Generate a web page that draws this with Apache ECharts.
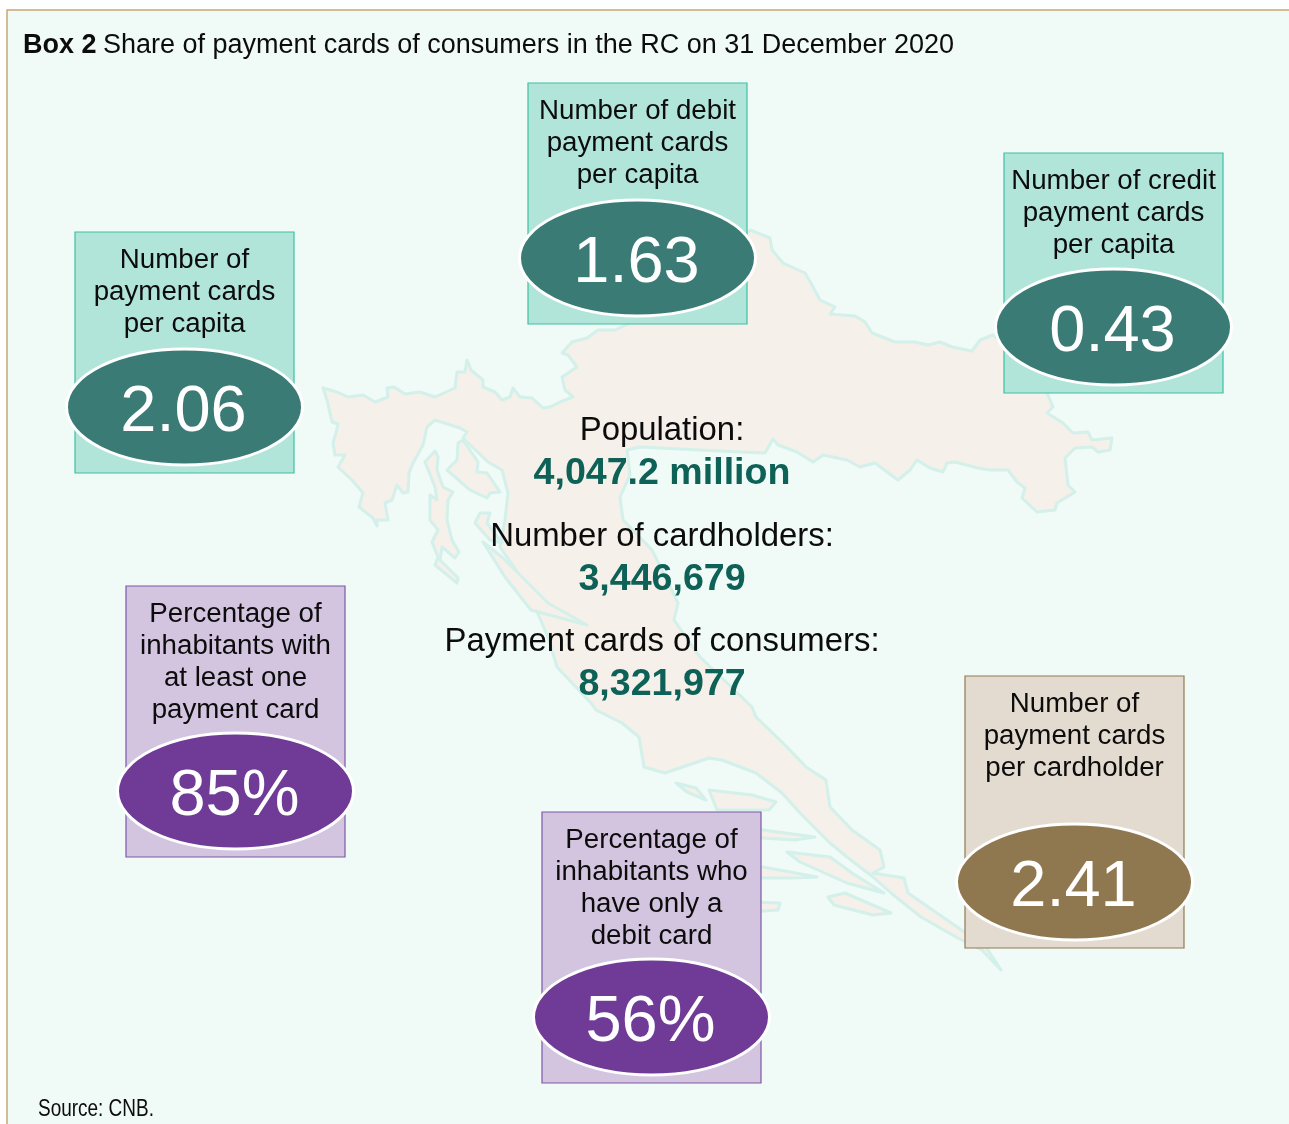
<!DOCTYPE html>
<html>
<head>
<meta charset="utf-8">
<title>Box 2</title>
<script src="https://cdn.jsdelivr.net/npm/echarts@6/dist/echarts.min.js"></script>
<style>
html, body { margin: 0; padding: 0; background: #fff; }
#chart { width: 1289px; height: 1124px; }
</style>
</head>
<body>
<div id="chart"></div>
<script>
var cardLabels = [
	['Number of', 'payment cards', 'per capita'],
	['Number of debit', 'payment cards', 'per capita'],
	['Number of credit', 'payment cards', 'per capita'],
	['Percentage of', 'inhabitants with', 'at least one', 'payment card'],
	['Percentage of', 'inhabitants who', 'have only a', 'debit card'],
	['Number of', 'payment cards', 'per cardholder']
];
var cardValues = [2.06, 1.63, 0.43, 85, 56, 2.41];
var cardUnits = ['', '', '', '%', '%', ''];

var statLabels = ['Population:', 'Number of cardholders:', 'Payment cards of consumers:'];
var statValues = ['4,047.2 million', '3,446,679', '8,321,977'];

var titleBold = 'Box 2';
var titleText = 'Share of payment cards of consumers in the RC on 31 December 2020';
var sourceText = 'Source: CNB.';

// where each card sits: left, top, right, bottom, palette
var cardBoxes = [
	[75, 232, 294, 473, 'teal'],
	[528, 83, 747, 324, 'teal'],
	[1004, 153, 1223, 393, 'teal'],
	[126, 586, 345, 857, 'purple'],
	[542, 812, 761, 1083, 'purple'],
	[965, 676, 1184, 948, 'brown']
];
var palettes = {
	teal: { fill: '#b2e5da', line: '#3cc0a2', oval: '#3b7b76' },
	purple: { fill: '#d3c4df', line: '#7f57a8', oval: '#6f3b96' },
	brown: { fill: '#e3dbd0', line: '#8f7a50', oval: '#8f784f' }
};

// backdrop outline of the country, not data
var mainland = [[323,388],[337,392],[348,397],[363,395],[375,402],[388,397],[387,388],[394,387],[405,394],[420,392],[435,397],[455,388],[457,372],[465,372],[467,360],[471,370],[483,380],[483,387],[495,392],[502,400],[510,397],[513,388],[520,397],[532,398],[543,408],[550,407],[560,402],[573,397],[565,390],[562,377],[577,367],[568,355],[562,353],[572,342],[587,338],[598,330],[615,330],[680,300],[750,230],[770,238],[772,250],[783,263],[805,273],[812,285],[820,300],[835,307],[830,314],[855,316],[865,322],[872,333],[895,342],[915,342],[928,345],[940,342],[952,347],[972,351],[980,340],[993,335],[1030,370],[1048,395],[1053,407],[1047,413],[1063,423],[1073,433],[1088,432],[1092,440],[1112,438],[1110,450],[1098,452],[1092,447],[1075,448],[1065,458],[1068,485],[1075,492],[1057,503],[1055,510],[1037,512],[1022,498],[1025,488],[1017,482],[1008,470],[990,470],[978,468],[955,462],[947,463],[943,472],[930,468],[917,460],[910,470],[898,480],[875,463],[860,467],[847,460],[823,455],[813,462],[797,452],[778,445],[773,439],[765,453],[740,452],[700,450],[640,447],[627,450],[630,475],[620,497],[623,520],[652,550],[678,603],[674,620],[700,657],[752,707],[756,717],[787,747],[806,767],[826,780],[830,807],[852,830],[880,850],[884,867],[873,873],[904,878],[908,893],[947,920],[986,947],[1001,970],[982,950],[956,937],[921,917],[891,893],[873,877],[847,857],[830,843],[800,813],[782,793],[756,773],[722,760],[709,758],[665,773],[644,767],[639,737],[622,723],[596,710],[591,703],[557,667],[548,637],[535,607],[518,573],[500,547],[505,520],[508,493],[502,470],[488,462],[463,438],[467,432],[460,428],[435,420],[427,427],[423,445],[413,463],[409,473],[408,492],[403,493],[397,485],[392,500],[385,503],[388,520],[377,520],[377,526],[373,518],[359,507],[363,493],[352,480],[338,467],[345,455],[335,455],[333,443],[336,433],[338,424],[332,422],[330,413],[327,400]];
var islands = [
	[[463,440],[478,462],[477,472],[487,473],[500,492],[490,493],[487,498],[470,490],[447,470],[457,460],[458,443]],
	[[435,451],[438,457],[437,470],[443,487],[453,492],[448,500],[447,520],[452,540],[459,552],[455,558],[442,547],[440,560],[458,578],[457,583],[435,565],[438,557],[432,542],[438,530],[430,520],[430,495],[437,500],[435,487],[425,462]],
	[[483,542],[503,558],[548,603],[587,625],[557,617],[531,610],[505,577]],
	[[475,523],[480,513],[490,513],[487,523],[502,543],[490,540]],
	[[709,790],[752,795],[776,802],[769,810],[717,810]],
	[[676,783],[696,788],[706,800],[687,792]],
	[[740,830],[763,830],[815,837],[795,840],[763,838]],
	[[740,867],[763,867],[817,877],[791,878],[763,878]],
	[[750,902],[780,903],[778,910],[750,912]],
	[[787,852],[830,857],[852,873],[884,893],[847,883],[800,862]],
	[[828,897],[845,893],[891,913],[873,915],[834,905]]
];

var fontName = '"Liberation Sans", Arial, sans-serif';

function formatValue(i) {
	return cardUnits[i] === '%' ? cardValues[i] + '%' : cardValues[i].toFixed(2);
}

function shapeGraphic(points) {
	return {
		type: 'polygon',
		silent: true,
		shape: { points: points },
		style: { fill: '#f5f0e9', stroke: '#d3f0ea', lineWidth: 3, lineJoin: 'round' }
	};
}

function renderCard(params, api) {
	var i = params.dataIndex;
	var box = cardBoxes[i];
	var colors = palettes[box[4]];
	var topLeft = api.coord([box[0], box[1]]);
	var bottomRight = api.coord([box[2], box[3]]);
	var middle = (topLeft[0] + bottomRight[0]) / 2;
	var ovalY = bottomRight[1] - 66;
	var children = [{
		type: 'rect',
		shape: { x: topLeft[0], y: topLeft[1], width: bottomRight[0] - topLeft[0], height: bottomRight[1] - topLeft[1] },
		style: { fill: colors.fill, stroke: colors.line, lineWidth: 1.2 }
	}];
	cardLabels[i].forEach(function (line, n) {
		children.push({
			type: 'text',
			style: {
				text: line, x: middle, y: topLeft[1] + 28 + n * 32,
				fill: '#0c0c0c', font: '27.7px ' + fontName,
				textAlign: 'center', textVerticalAlign: 'middle'
			}
		});
	});
	children.push({
		type: 'ellipse',
		shape: { cx: middle, cy: ovalY, rx: 118, ry: 58 },
		style: { fill: colors.oval, stroke: '#fff', lineWidth: 3 }
	});
	children.push({
		type: 'text',
		style: {
			text: formatValue(i), x: middle - 1, y: ovalY + 6,
			fill: '#fff', font: '65px ' + fontName,
			textAlign: 'center', textVerticalAlign: 'middle'
		}
	});
	return { type: 'group', children: children };
}

function renderStat(params, api) {
	var i = params.dataIndex;
	var pos = api.coord([662, 431 + i * 105.5]);
	return {
		type: 'group',
		children: [{
			type: 'text',
			style: {
				text: statLabels[i], x: pos[0], y: pos[1],
				fill: '#0c0c0c', font: '32.9px ' + fontName,
				textAlign: 'center', textVerticalAlign: 'middle'
			}
		}, {
			type: 'text',
			style: {
				text: statValues[i], x: pos[0], y: pos[1] + 43,
				fill: '#0e6157', font: 'bold 37.6px ' + fontName,
				textAlign: 'center', textVerticalAlign: 'middle'
			}
		}]
	};
}

var myChart = echarts.init(document.getElementById('chart'), null, { renderer: 'canvas' });

var backdrop = [{
	type: 'rect',
	silent: true,
	shape: { x: 7, y: 10, width: 1290, height: 1120 },
	style: { fill: '#f0faf6', stroke: '#c8a870', lineWidth: 1.5 }
}, shapeGraphic(mainland)];
islands.forEach(function (island) {
	backdrop.push(shapeGraphic(island));
});
backdrop.push({
	type: 'text',
	silent: true,
	style: { text: titleBold, x: 23, y: 46, fill: '#0c0c0c', font: 'bold 27px ' + fontName, textVerticalAlign: 'middle' }
}, {
	type: 'text',
	silent: true,
	style: { text: titleText, x: 103, y: 46, fill: '#0c0c0c', font: '27px ' + fontName, textVerticalAlign: 'middle' }
}, {
	type: 'text',
	silent: true,
	x: 38,
	y: 1109,
	scaleX: 0.79,
	style: { text: sourceText, x: 0, y: 0, fill: '#0c0c0c', font: '24px ' + fontName, textVerticalAlign: 'middle' }
});

var option = {
	backgroundColor: '#fff',
	animation: false,
	grid: { left: 0, right: 0, top: 0, bottom: 0 },
	xAxis: { type: 'value', min: 0, max: 1289, show: false },
	yAxis: { type: 'value', min: 0, max: 1124, inverse: true, show: false },
	graphic: { elements: backdrop },
	series: [{
		type: 'custom',
		silent: true,
		clip: false,
		renderItem: renderCard,
		data: cardValues.map(function (v, i) { return [i, v]; })
	}, {
		type: 'custom',
		silent: true,
		clip: false,
		renderItem: renderStat,
		data: statLabels.map(function (v, i) { return [i, i]; })
	}]
};
myChart.setOption(option);
</script>
</body>
</html>
